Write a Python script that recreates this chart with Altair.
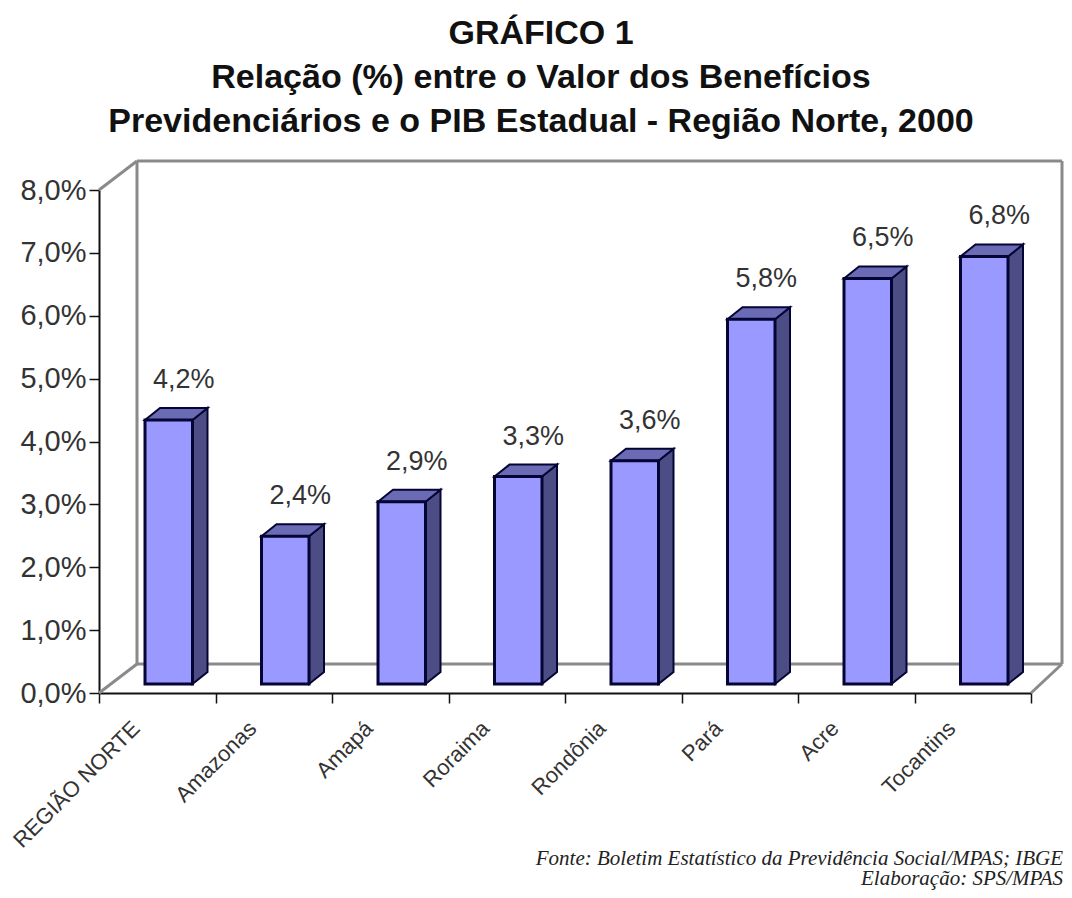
import altair as alt
import pandas as pd

categories = ["REGIÃO NORTE", "Amazonas", "Amapá", "Roraima", "Rondônia", "Pará", "Acre", "Tocantins"]
values = [4.2, 2.35, 2.9, 3.3, 3.55, 5.8, 6.45, 6.8]
value_labels = ["4,2%", "2,4%", "2,9%", "3,3%", "3,6%", "5,8%", "6,5%", "6,8%"]
title_lines = ["GRÁFICO 1", "Relação (%) entre o Valor dos Benefícios",
               "Previdenciários e o PIB Estadual - Região Norte, 2000"]
source_lines = ["Fonte: Boletim Estatístico da Previdência Social/MPAS; IBGE", "Elaboração: SPS/MPAS"]

W, H = 932, 503
PX = W / 8      # pixels per category
PY = H / 8      # pixels per 1%
FONT = "Liberation Sans"

wall_dx, wall_dy = 38 / PX, 29 / PY
right_dx = 31 / PX
bar_left = 46 / PX
bar_w = 47.5 / PX
bar_base = 9 / PY
depth_x, depth_y = 15 / PX, 12 / PY

front, side, top, labels, cats = [], [], [], [], []
for i, (c, v, l) in enumerate(zip(categories, values, value_labels)):
    x0 = i + bar_left
    x1 = x0 + bar_w
    y0 = bar_base
    y1 = bar_base + v
    front.append({"c": c, "x": x0, "x2": x1, "y": y0, "y2": y1})
    side.append({"c": c, "x": x1, "y": y0, "y2": y1})
    side.append({"c": c, "x": x1 + depth_x, "y": y0 + depth_y, "y2": y1 + depth_y})
    top.append({"c": c, "y": y1, "x": x0, "x2": x1})
    top.append({"c": c, "y": y1 + depth_y, "x": x0 + depth_x, "x2": x1 + depth_x})
    labels.append({"t": l, "x": (x0 + x1) / 2 + 15 / PX, "y": y1 + 40 / PY})
    cats.append({"t": c, "x": i + 0.5 - 21 / PX})

walls = [
    {"x": 0, "y": 8, "x2": wall_dx, "y2": 8 + wall_dy},
    {"x": 0, "y": 0, "x2": wall_dx, "y2": wall_dy},
    {"x": 8, "y": 0, "x2": 8 + right_dx, "y2": wall_dy},
    {"x": wall_dx, "y": wall_dy, "x2": wall_dx, "y2": 8 + wall_dy},
    {"x": wall_dx, "y": wall_dy, "x2": 8 + right_dx, "y2": wall_dy},
    {"x": wall_dx, "y": 8 + wall_dy, "x2": 8 + right_dx, "y2": 8 + wall_dy},
    {"x": 8 + right_dx, "y": wall_dy, "x2": 8 + right_dx, "y2": 8 + wall_dy},
]

xs = alt.Scale(domain=[0, 8], nice=False, zero=False)
ys = alt.Scale(domain=[0, 8], nice=False, zero=False)
X = alt.X("x:Q", scale=xs, title=None,
          axis=alt.Axis(values=list(range(9)), labels=False, tickSize=10, tickColor="#111111",
                        tickWidth=1.5, domainColor="#111111", domainWidth=2, grid=False))
Y = alt.Y("y:Q", scale=ys, title=None,
          axis=alt.Axis(values=list(range(9)), tickSize=10, tickColor="#111111", tickWidth=1.5,
                        domainColor="#111111", domainWidth=2, grid=False, labelFont=FONT,
                        labelFontSize=29, labelColor="#333333", labelPadding=3,
                        labelExpr="replace(format(datum.value, '.1f'), '.', ',') + '%'"))

wall_layer = alt.Chart(pd.DataFrame(walls)).mark_rule(color="#8a8a8a", strokeWidth=3).encode(
    x=X, y=Y, x2="x2:Q", y2="y2:Q")

OUT = "#050535"
side_layer = alt.Chart(pd.DataFrame(side)).mark_area(
    color="#4d4d85", stroke=OUT, strokeWidth=2, interpolate="linear").encode(
    x=alt.X("x:Q", scale=xs), y=alt.Y("y:Q", scale=ys), y2="y2:Q", detail="c:N")
top_layer = alt.Chart(pd.DataFrame(top)).mark_area(
    color="#6a6ab5", stroke=OUT, strokeWidth=2, orient="horizontal", interpolate="linear").encode(
    y=alt.Y("y:Q", scale=ys), x=alt.X("x:Q", scale=xs), x2="x2:Q", detail="c:N")
front_layer = alt.Chart(pd.DataFrame(front)).mark_rect(
    color="#9999ff", stroke=OUT, strokeWidth=3).encode(
    x=alt.X("x:Q", scale=xs), x2="x2:Q", y=alt.Y("y:Q", scale=ys), y2="y2:Q")
label_layer = alt.Chart(pd.DataFrame(labels)).mark_text(
    font=FONT, fontSize=27, color="#333333", align="center", baseline="middle").encode(
    x=alt.X("x:Q", scale=xs), y=alt.Y("y:Q", scale=ys), text="t:N")
cat_layer = alt.Chart(pd.DataFrame(cats)).mark_text(
    font=FONT, fontSize=22, color="#333333", align="right", baseline="middle", angle=315).encode(
    x=alt.X("x:Q", scale=xs), y=alt.value(H + 32), text="t:N")


def source(line, py):
    return alt.Chart(pd.DataFrame({"t": [line]})).mark_text(
        font="Liberation Serif", fontStyle="italic", fontSize=21, color="#222222", align="right",
        baseline="alphabetic").encode(x=alt.value(W + 32), y=alt.value(py - 190), text="t:N")


chart = alt.layer(wall_layer, side_layer, top_layer, front_layer, label_layer, cat_layer,
                  source(source_lines[0], 865), source(source_lines[1], 885)).properties(
    width=W, height=H,
    padding={"left": 91, "top": 182, "right": 33, "bottom": 197},
    autosize=alt.AutoSizeParams(type="none"),
    background="white",
    title=alt.TitleParams(text=title_lines, font=FONT, fontSize=34, fontWeight="bold", color="#111111",
                          lineHeight=44, anchor="middle", dx=-24, offset=21),
).configure_view(stroke=None)

chart.save("out.html", embed_options={"renderer": "svg", "actions": False})
